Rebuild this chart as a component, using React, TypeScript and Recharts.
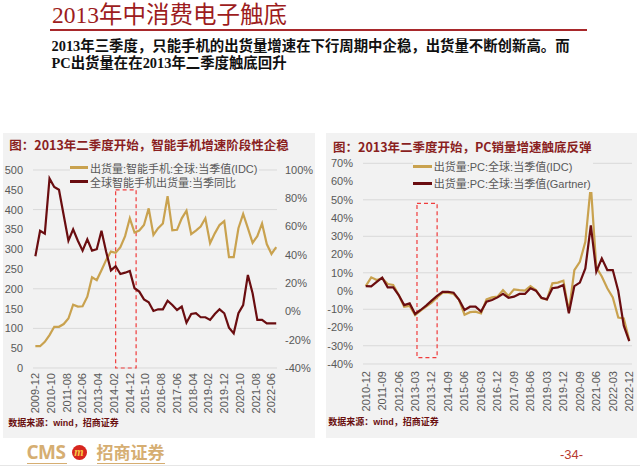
import React from 'react';
import { LineChart, Line, XAxis, YAxis, CartesianGrid, ReferenceArea, Legend } from 'recharts';

// 左图：智能手机出货量（百万台）与同比（%），季度数据
const phoneStart = '2009-12';
const phoneShipments = [
  55, 55, 66, 83, 104, 104, 111, 125, 160, 155,
  156, 180, 229, 222, 247, 273, 294, 291, 305, 333,
  378, 342, 347, 361, 403, 336, 353, 365, 434, 348,
  349, 378, 397, 338, 347, 357, 378, 315, 340, 361,
  371, 280, 280, 353, 389, 353, 316, 333, 365, 313,
  288, 305,
];
const phoneYoY = [
  39, 57, 55, 94, 88, 86, 68, 50, 58, 50,
  43, 51, 43, 44, 57, 42, 29, 32, 26.5, 27.4,
  28.6, 16.4, 14, 8.5, 6.5, 0.3, 1.5, 1.5, 7.6, 4.5,
  1, 3.4, -8, -1.8, -1.3, -4.1, -4.1, -6, -1.8, 1.5,
  -1.3, -11.5, -15.5, -1.3, 4.5, 25.8, 12.8, -6, -6, -8.4,
  -8.4, -8.4,
];
const phoneTicks = [
  '2009-12', '2010-10', '2011-08', '2012-06', '2013-04', '2014-02', '2014-12', '2015-10',
  '2016-08', '2017-06', '2018-04', '2019-02', '2019-12', '2020-10', '2021-08', '2022-06',
];
const phoneLeftTicks = [0, 50, 100, 150, 200, 250, 300, 350, 400, 450, 500];
const phoneRightTicks = [-40, -20, 0, 20, 40, 60, 80, 100];
const phoneBox = ['2014-03', '2015-04'];
const phoneNames = ['出货量:智能手机:全球:当季值(IDC)', '全球智能手机出货量:当季同比'];

// 右图：PC出货量同比（%），IDC 与 Gartner
const pcStart = '2010-12';
const pcIDC = [
  2.7, 7.5, 6, 7, 3.8, 3.3, -2.2, -8.6, -8.2, -13.2,
  -10.8, -8.6, -6.4, -3.5, -0.9, -0.9, -1.6, -4.8, -13, -11.6,
  -11.3, -12.3, -4.6, -3.5, -3.1, 0.5, -2.7, 0.9, 0.5, 0.2,
  2.7, 0.5, -4, -4.6, 4.2, 4.6, 5.7, -11.3, 11.5, 16,
  27, 58, 13, 8, 1.5, -3.5, -14.5, -15, -27,
];
const pcGartner = [
  2.7, 2.5, 5, 7.3, 2, 2, -2.2, -7.7, -6.8, -12.6,
  -10.4, -8, -5.3, -2.7, -0.5, -0.4, -0.9, -4.9, -10.4, -8.6,
  -8.6, -11.3, -5.9, -4.9, -3.5, -1.6, -3.7, -3.1, -1.6, -1.6,
  1.5, 0.2, -3.7, -4.6, 1.5, 2, 3.3, -12.2, 2.7, 4.6,
  12.4, 36, 10.6, 17.9, 11.5, 11.5, 0, -19, -27.5,
];
const pcTicks = [
  '2010-12', '2011-09', '2012-06', '2013-03', '2013-12', '2014-09', '2015-06', '2016-03', '2016-12',
  '2017-09', '2018-06', '2019-03', '2019-12', '2020-09', '2021-06', '2022-03', '2022-12',
];
const pcYTicks = [-40, -30, -20, -10, 0, 10, 20, 30, 40, 50, 60, 70];
const pcBox = ['2013-04', '2014-03'];
const pcNames = ['出货量:PC:全球:当季值(IDC)', '出货量:PC:全球:当季值(Gartner)'];

const GOLD = '#C9A24F';
const DARK = '#6A0D10';
const PANEL = '#F2F2F2';
const GRID = '#D9D9D9';
const AXIS_TEXT = '#595959';
const SANS = '"Liberation Sans", Arial, "Noto Sans CJK SC", sans-serif';

function monthIndex(date: string, base: string) {
  const [y, m] = date.split('-').map(Number);
  const [by, bm] = base.split('-').map(Number);
  return (y - by) * 12 + (m - bm);
}

function monthLabel(base: string, offset: number) {
  const [by, bm] = base.split('-').map(Number);
  const total = by * 12 + (bm - 1) + offset;
  return `${Math.floor(total / 12)}-${String((total % 12) + 1).padStart(2, '0')}`;
}

const phoneData = phoneShipments.map((v, i) => ({
  m: i * 3,
  shipments: v,
  yoy: phoneYoY[i],
}));

const pcData = pcIDC.map((v, i) => ({
  m: i * 3,
  idc: v,
  gartner: pcGartner[i],
}));

const RotatedTick = (props: any) => {
  const { x, y, payload, base } = props;
  return (
    <text
      x={x}
      y={y}
      transform={`rotate(-90 ${x} ${y})`}
      textAnchor="end"
      dy="0.35em"
      fill={AXIS_TEXT}
      fontSize={11}
      fontFamily={SANS}
    >
      {monthLabel(base, payload.value)}
    </text>
  );
};

const makeLegend = (order: string[], left: number, top: number, rowH: number, lineW: number) => ({
  content: (props: any) => {
    const items = [...(props.payload || [])].sort(
      (a: any, b: any) => order.indexOf(a.value) - order.indexOf(b.value)
    );
    return (
      <div style={{ background: PANEL, paddingRight: 2 }}>
        {items.map((p: any) => (
          <div key={p.value} style={{ display: 'flex', alignItems: 'center', height: rowH }}>
            <span style={{ display: 'inline-block', width: lineW, height: 3, background: p.color }} />
            <span
              style={{
                marginLeft: 2,
                fontSize: 11,
                color: AXIS_TEXT,
                fontFamily: SANS,
                whiteSpace: 'nowrap',
              }}
            >
              {p.value}
            </span>
          </div>
        ))}
      </div>
    );
  },
  wrapperStyle: { left, top, width: 'auto', height: 'auto', right: 'auto', bottom: 'auto' },
});

function PhoneChart() {
  const lg = makeLegend(phoneNames, 70, 10.7, 14, 18);
  return (
    <LineChart
      width={320}
      height={270}
      data={phoneData}
      margin={{ top: 20, right: 0, bottom: 0, left: 0 }}
    >
      <CartesianGrid vertical={false} stroke={GRID} yAxisId="left" />
      <XAxis
        dataKey="m"
        type="number"
        domain={[-1.5, 153.5]}
        ticks={phoneTicks.map(t => monthIndex(t, phoneStart))}
        interval={0}
        height={52}
        axisLine={false}
        tickLine={false}
        tickSize={0}
        tickMargin={5}
        tick={(p: any) => <RotatedTick {...p} base={phoneStart} />}
      />
      <YAxis
        yAxisId="left"
        domain={[0, 500]}
        ticks={phoneLeftTicks}
        width={33}
        axisLine={false}
        tickLine={false}
        tickSize={0}
        tickMargin={10}
        tick={{ fontSize: 11, fill: AXIS_TEXT, fontFamily: SANS }}
      />
      <YAxis
        yAxisId="right"
        orientation="right"
        domain={[-40, 100]}
        ticks={phoneRightTicks}
        tickFormatter={(v: number) => `${v}%`}
        width={43}
        axisLine={false}
        tickLine={false}
        tickSize={0}
        tickMargin={8}
        tick={{ fontSize: 11, fill: AXIS_TEXT, fontFamily: SANS }}
      />
      <Legend layout="vertical" align="center" verticalAlign="middle" content={lg.content} wrapperStyle={lg.wrapperStyle} />
      <Line
        yAxisId="left"
        dataKey="shipments"
        name={phoneNames[0]}
        stroke={GOLD}
        strokeWidth={2.2}
        dot={false}
        isAnimationActive={false}
      />
      <Line
        yAxisId="right"
        dataKey="yoy"
        name={phoneNames[1]}
        stroke={DARK}
        strokeWidth={2.2}
        dot={false}
        isAnimationActive={false}
      />
      <ReferenceArea
        yAxisId="left"
        x1={monthIndex(phoneBox[0], phoneStart)}
        x2={monthIndex(phoneBox[1], phoneStart)}
        y1={0}
        y2={450}
        stroke="#F03C3C"
        strokeDasharray="4 3"
        strokeWidth={1.2}
        fill="none"
        fillOpacity={0}
      />
    </LineChart>
  );
}

function PcChart() {
  const lg = makeLegend(pcNames, 92.7, 7.5, 17.3, 19);
  return (
    <LineChart
      width={320}
      height={270}
      data={pcData}
      margin={{ top: 13.3, right: 8, bottom: 0, left: 0 }}
    >
      <CartesianGrid vertical={false} stroke={GRID} />
      <XAxis
        dataKey="m"
        type="number"
        domain={[-1.5, 145.5]}
        ticks={pcTicks.map(t => monthIndex(t, pcStart))}
        interval={0}
        height={56}
        axisLine={false}
        tickLine={false}
        tickSize={0}
        tickMargin={7}
        tick={(p: any) => <RotatedTick {...p} base={pcStart} />}
      />
      <YAxis
        domain={[-40, 70]}
        ticks={pcYTicks}
        tickFormatter={(v: number) => `${v}%`}
        width={43}
        axisLine={false}
        tickLine={false}
        tickSize={0}
        tickMargin={10}
        tick={{ fontSize: 11, fill: AXIS_TEXT, fontFamily: SANS }}
      />
      <Legend layout="vertical" align="center" verticalAlign="middle" content={lg.content} wrapperStyle={lg.wrapperStyle} />
      <Line
        dataKey="idc"
        name={pcNames[0]}
        stroke={GOLD}
        strokeWidth={2.2}
        dot={false}
        isAnimationActive={false}
      />
      <Line
        dataKey="gartner"
        name={pcNames[1]}
        stroke={DARK}
        strokeWidth={2.2}
        dot={false}
        isAnimationActive={false}
      />
      <ReferenceArea
        x1={monthIndex(pcBox[0], pcStart)}
        x2={monthIndex(pcBox[1], pcStart)}
        y1={-36.5}
        y2={48}
        stroke="#F03C3C"
        strokeDasharray="4 3"
        strokeWidth={1.2}
        fill="none"
        fillOpacity={0}
      />
    </LineChart>
  );
}

const abs = (left: number, top: number, extra: React.CSSProperties = {}): React.CSSProperties => ({
  position: 'absolute',
  left,
  top,
  ...extra,
});

export default function App() {
  const panelTitle: React.CSSProperties = {
    fontFamily: '"Noto Sans CJK SC", sans-serif',
    fontWeight: 700,
    fontSize: 12.5,
    color: '#8A1F1F',
    whiteSpace: 'nowrap',
    lineHeight: '16px',
  };
  const source: React.CSSProperties = {
    fontFamily: '"Liberation Serif", "Noto Sans CJK SC", serif',
    fontWeight: 700,
    fontSize: 9,
    color: '#6B1010',
    whiteSpace: 'nowrap',
    lineHeight: '12px',
  };
  return (
    <div
      style={{
        position: 'absolute',
        left: 0,
        top: 0,
        width: 640,
        height: 466,
        background: '#fff',
        overflow: 'hidden',
        fontFamily: SANS,
      }}
    >
      {/* 标题 */}
      <div
        style={abs(52, 1, {
          fontFamily: '"Liberation Serif", "Noto Sans CJK SC", serif',
          fontSize: 23.5,
          color: '#9D1C20',
          lineHeight: '28px',
          whiteSpace: 'nowrap',
        })}
      >
        2013年中消费电子触底
      </div>
      <div style={abs(50, 29.3, { width: 537, height: 1.5, background: '#A8282B' })} />
      <div
        style={abs(51.5, 38, {
          fontFamily: '"Liberation Serif", "Noto Sans CJK SC", serif',
          fontSize: 14.4,
          fontWeight: 700,
          color: '#111',
          lineHeight: '17.4px',
          whiteSpace: 'nowrap',
        })}
      >
        <div>2013年三季度，只能手机的出货量增速在下行周期中企稳，出货量不断创新高。而</div>
        <div>PC出货量在在2013年二季度触底回升</div>
      </div>

      {/* 左图 */}
      <div style={abs(3.3, 133, { width: 312, height: 305, background: PANEL })} />
      <div style={abs(9.3, 137, panelTitle)}>图：2013年二季度开始，智能手机增速阶段性企稳</div>
      <div style={abs(0, 150)}>
        <PhoneChart />
      </div>
      <div style={abs(8.3, 417, source)}>
        数据来源：<span style={{ fontFamily: SANS }}>wind</span>，招商证券
      </div>

      {/* 右图 */}
      <div style={abs(326, 133, { width: 311, height: 305, background: PANEL })} />
      <div style={abs(333, 138.5, panelTitle)}>图：2013年二季度开始，PC销量增速触底反弹</div>
      <div style={abs(320, 150)}>
        <PcChart />
      </div>
      <div style={abs(328.3, 416, source)}>
        数据来源：<span style={{ fontFamily: SANS }}>wind</span>，招商证券
      </div>

      {/* 页脚 */}
      <div
        style={abs(26.5, 441, {
          fontFamily: '"Open Sans", "Liberation Sans", sans-serif',
          fontWeight: 700,
          fontSize: 19,
          lineHeight: '22px',
          color: '#D6AE72',
          letterSpacing: -0.5,
        })}
      >
        CMS
      </div>
      <div style={abs(27, 463, { width: 40, height: 1, background: '#D6AE72' })} />
      <div
        style={abs(71.5, 444.5, {
          width: 15,
          height: 15,
          borderRadius: '50%',
          background: '#D7261E',
          color: '#F6C843',
          fontSize: 12,
          fontWeight: 700,
          fontStyle: 'italic',
          lineHeight: '14px',
          textAlign: 'center',
          fontFamily: '"Liberation Serif", serif',
        })}
      >
        m
      </div>
      <div
        style={abs(96.5, 442, {
          fontFamily: '"Noto Sans CJK SC", sans-serif',
          fontWeight: 700,
          fontSize: 17,
          lineHeight: '20px',
          color: '#D6AE72',
          whiteSpace: 'nowrap',
        })}
      >
        招商证券
      </div>
      <div style={abs(97, 463, { width: 68, height: 1, background: '#D6AE72' })} />
      <div
        style={abs(560, 447, {
          fontFamily: SANS,
          fontSize: 13,
          lineHeight: '16px',
          color: '#B83A30',
        })}
      >
        -34-
      </div>
      <div style={abs(0, 465, { width: 640, height: 1, background: '#E6E6E6' })} />
    </div>
  );
}
